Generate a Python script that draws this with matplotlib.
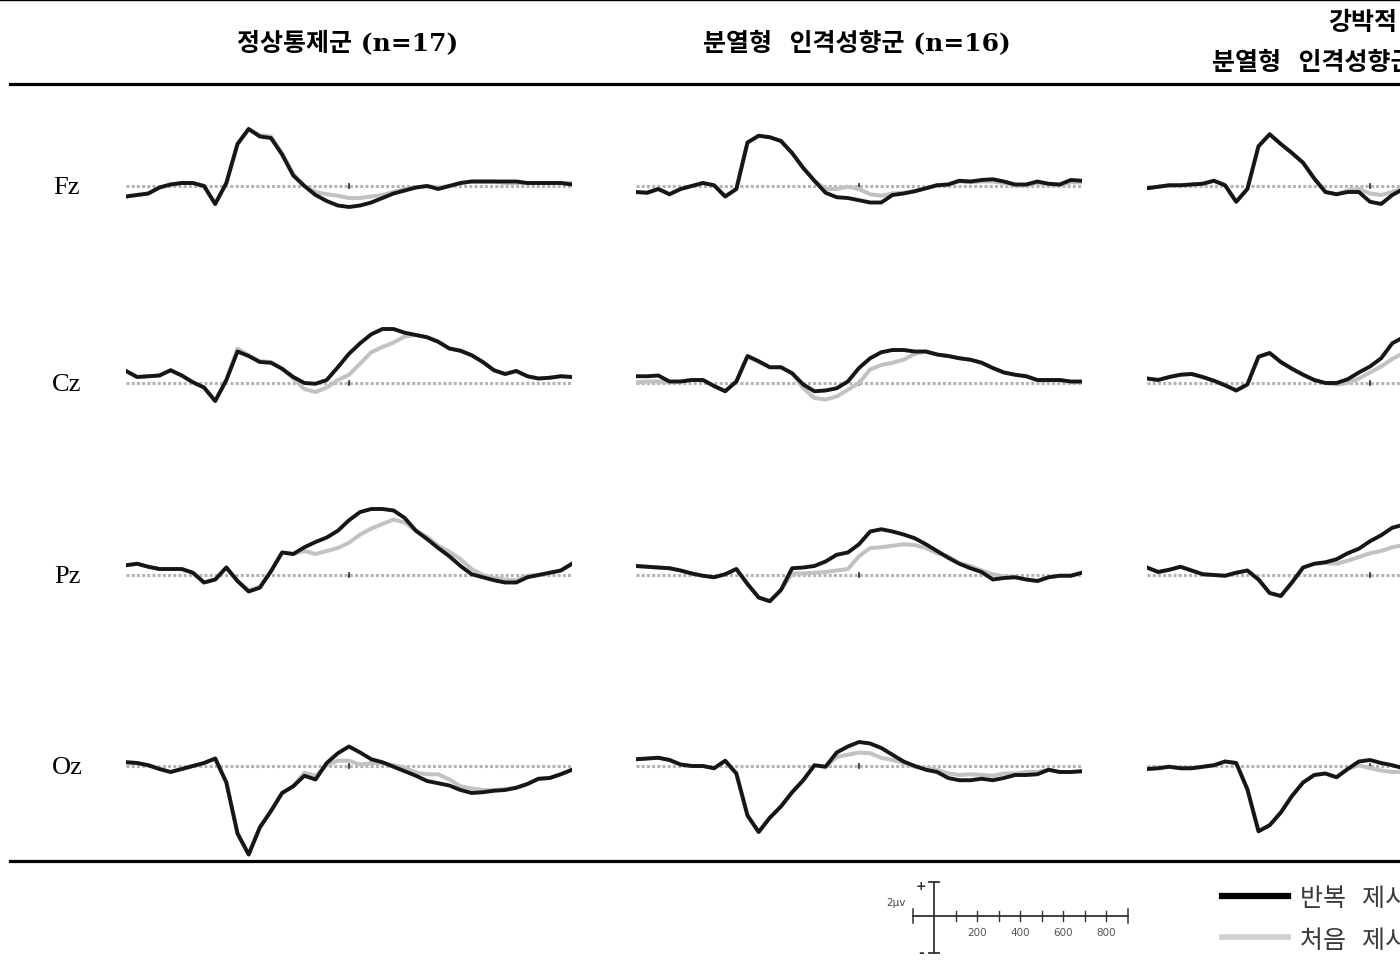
import numpy as np
import matplotlib.pyplot as plt
from matplotlib.lines import Line2D

plt.rcParams['font.family'] = ['Noto Sans CJK KR', 'DejaVu Sans']

# 시간축 (ms), 25ms 간격
times = np.arange(-100, 901, 25)
sites = ['Fz', 'Cz', 'Pz', 'Oz']
group_titles = ['정상통제군 (n=17)', '분열형  인격성향군 (n=16)']
third_title = ['강박적', '분열형  인격성향군']
legend_labels = ['반복  제시', '처음  제시']
scale_ticks = [200, 400, 600, 800]

# 정상통제군 (uV) - 반복 제시 / 처음 제시
normal_fz_rep = [-0.7, -0.6, -0.5, -0.1, 0.1, 0.2, 0.2, 0.0, -1.2, 0.2, 2.8, 3.8, 3.3, 3.2, 2.1, 0.7, 0.0, -0.6, -1.0, -1.3, -1.4, -1.3, -1.1, -0.8, -0.5, -0.3, -0.1, 0.0, -0.2, 0.0, 0.2, 0.3, 0.3, 0.3, 0.3, 0.3, 0.2, 0.2, 0.2, 0.2, 0.1]
normal_fz_first = [-0.7, -0.6, -0.5, -0.1, 0.1, 0.2, 0.2, 0.0, -1.2, 0.2, 2.8, 3.8, 3.4, 3.3, 2.2, 0.8, 0.0, -0.4, -0.55, -0.65, -0.8, -0.8, -0.7, -0.6, -0.4, -0.2, -0.1, 0.0, -0.1, 0.0, 0.2, 0.3, 0.3, 0.3, 0.2, 0.2, 0.2, 0.2, 0.2, 0.2, 0.2]
normal_cz_rep = [0.8, 0.4, 0.45, 0.5, 0.85, 0.5, 0.05, -0.3, -1.2, 0.2, 2.1, 1.8, 1.4, 1.35, 0.95, 0.4, 0.0, -0.05, 0.2, 1.05, 1.95, 2.65, 3.25, 3.6, 3.6, 3.35, 3.2, 3.05, 2.75, 2.3, 2.15, 1.85, 1.4, 0.85, 0.6, 0.8, 0.45, 0.3, 0.35, 0.45, 0.4]
normal_cz_first = [0.8, 0.4, 0.45, 0.5, 0.85, 0.5, 0.05, -0.3, -1.2, 0.2, 2.3, 1.85, 1.45, 1.4, 0.95, 0.3, -0.4, -0.6, -0.3, 0.2, 0.55, 1.3, 2.05, 2.4, 2.7, 3.1, 3.2, 3.05, 2.75, 2.3, 2.15, 1.85, 1.4, 0.85, 0.6, 0.8, 0.45, 0.3, 0.35, 0.45, 0.4]
normal_pz_rep = [0.65, 0.75, 0.55, 0.4, 0.4, 0.4, 0.15, -0.5, -0.3, 0.5, -0.4, -1.1, -0.85, 0.25, 1.5, 1.4, 1.85, 2.2, 2.5, 2.95, 3.65, 4.2, 4.4, 4.4, 4.3, 3.8, 2.95, 2.4, 1.8, 1.25, 0.6, 0.05, -0.15, -0.35, -0.5, -0.5, -0.15, 0.0, 0.15, 0.3, 0.75]
normal_pz_first = [0.65, 0.75, 0.55, 0.4, 0.4, 0.4, 0.15, -0.5, -0.3, 0.5, -0.4, -1.0, -0.8, 0.25, 1.5, 1.4, 1.6, 1.4, 1.6, 1.8, 2.15, 2.7, 3.1, 3.4, 3.7, 3.5, 2.95, 2.55, 1.95, 1.55, 1.05, 0.4, 0.0, -0.2, -0.3, -0.35, -0.05, 0.0, 0.15, 0.3, 0.75]
normal_oz_rep = [0.25, 0.2, 0.05, -0.2, -0.4, -0.2, 0.0, 0.2, 0.5, -1.1, -4.5, -5.9, -4.1, -3.0, -1.8, -1.35, -0.65, -0.9, 0.2, 0.85, 1.3, 0.9, 0.45, 0.25, -0.05, -0.35, -0.65, -1.0, -1.15, -1.3, -1.6, -1.8, -1.75, -1.65, -1.6, -1.45, -1.2, -0.85, -0.8, -0.55, -0.25]
normal_oz_first = [0.25, 0.2, 0.05, -0.2, -0.4, -0.2, 0.0, 0.2, 0.5, -1.1, -4.5, -5.9, -4.1, -3.0, -1.8, -1.35, -0.45, -0.65, 0.05, 0.35, 0.35, 0.1, 0.2, 0.2, 0.05, -0.1, -0.45, -0.55, -0.55, -0.9, -1.35, -1.5, -1.6, -1.6, -1.55, -1.45, -1.2, -0.85, -0.8, -0.55, -0.25]

# 분열형 인격성향군
schizo_fz_rep = [-0.4, -0.45, -0.2, -0.55, -0.2, 0.0, 0.2, 0.05, -0.7, -0.2, 2.9, 3.35, 3.25, 3.0, 2.2, 1.2, 0.35, -0.45, -0.75, -0.8, -0.95, -1.1, -1.1, -0.6, -0.5, -0.35, -0.15, 0.05, 0.1, 0.35, 0.3, 0.4, 0.45, 0.3, 0.1, 0.1, 0.3, 0.15, 0.1, 0.4, 0.35]
schizo_fz_first = [-0.4, -0.45, -0.2, -0.55, -0.2, 0.0, 0.2, 0.05, -0.7, -0.2, 2.9, 3.35, 3.25, 3.0, 2.2, 1.2, 0.35, -0.2, -0.2, -0.05, -0.2, -0.55, -0.65, -0.5, -0.45, -0.35, -0.15, 0.05, 0.1, 0.3, 0.25, 0.3, 0.3, 0.2, 0.05, 0.05, 0.2, 0.1, 0.05, 0.25, 0.25]
schizo_cz_rep = [0.45, 0.45, 0.5, 0.1, 0.1, 0.2, 0.2, -0.2, -0.55, 0.1, 1.8, 1.45, 1.05, 1.05, 0.65, -0.1, -0.55, -0.5, -0.35, 0.1, 1.0, 1.65, 2.05, 2.2, 2.2, 2.1, 2.1, 1.9, 1.8, 1.65, 1.55, 1.35, 1.0, 0.7, 0.55, 0.45, 0.2, 0.2, 0.2, 0.1, 0.1]
schizo_cz_first = [0.05, 0.1, 0.1, 0.05, 0.1, 0.2, 0.2, -0.2, -0.55, 0.1, 1.75, 1.4, 1.05, 1.05, 0.65, -0.35, -1.0, -1.1, -0.9, -0.45, 0.0, 0.9, 1.2, 1.35, 1.55, 1.95, 2.1, 1.9, 1.8, 1.65, 1.55, 1.35, 1.0, 0.7, 0.55, 0.45, 0.15, 0.15, 0.2, 0.05, 0.05]
schizo_pz_rep = [0.6, 0.55, 0.5, 0.45, 0.3, 0.1, -0.05, -0.15, 0.05, 0.4, -0.6, -1.5, -1.75, -1.0, 0.45, 0.5, 0.6, 0.9, 1.35, 1.5, 2.05, 2.9, 3.05, 2.9, 2.7, 2.45, 2.05, 1.6, 1.15, 0.75, 0.45, 0.2, -0.3, -0.2, -0.15, -0.3, -0.4, -0.15, -0.05, -0.05, 0.15]
schizo_pz_first = [0.6, 0.55, 0.5, 0.45, 0.3, 0.1, -0.05, -0.15, 0.05, 0.4, -0.6, -1.5, -1.75, -1.0, 0.1, 0.1, 0.15, 0.2, 0.3, 0.4, 1.25, 1.8, 1.85, 1.95, 2.05, 2.0, 1.8, 1.45, 1.25, 0.8, 0.6, 0.3, 0.05, -0.1, -0.15, -0.3, -0.4, -0.15, -0.05, -0.05, 0.15]
schizo_oz_rep = [0.45, 0.5, 0.55, 0.4, 0.1, 0.0, 0.0, -0.15, 0.35, -0.5, -3.3, -4.4, -3.45, -2.7, -1.75, -0.95, 0.05, -0.05, 0.9, 1.3, 1.6, 1.5, 1.2, 0.75, 0.3, 0.0, -0.25, -0.4, -0.8, -0.95, -0.95, -0.85, -0.95, -0.8, -0.6, -0.6, -0.55, -0.25, -0.4, -0.4, -0.35]
schizo_oz_first = [0.45, 0.5, 0.55, 0.4, 0.1, 0.0, 0.0, -0.15, 0.35, -0.5, -3.3, -4.4, -3.45, -2.7, -1.75, -0.95, 0.05, -0.05, 0.6, 0.75, 0.9, 0.85, 0.55, 0.4, 0.2, -0.05, -0.15, -0.25, -0.5, -0.6, -0.55, -0.6, -0.65, -0.5, -0.5, -0.4, -0.4, -0.25, -0.4, -0.4, -0.35]

# 강박적 + 분열형 (그림 오른쪽이 잘려 있어 보이는 구간만)
ocd_fz_rep = [-0.15, -0.05, 0.05, 0.05, 0.1, 0.15, 0.35, 0.05, -1.05, -0.2, 2.65, 3.45, 2.8, 2.2, 1.55, 0.5, -0.4, -0.55, -0.4, -0.4, -1.05, -1.2, -0.6, -0.2]
ocd_fz_first = [-0.15, -0.05, 0.05, 0.05, 0.1, 0.15, 0.35, 0.05, -1.05, -0.2, 2.65, 3.45, 2.8, 2.2, 1.55, 0.5, -0.4, -0.55, -0.3, -0.2, -0.5, -0.6, -0.4, -0.15]
ocd_cz_rep = [0.3, 0.2, 0.4, 0.55, 0.6, 0.4, 0.15, -0.15, -0.5, -0.1, 1.75, 2.0, 1.4, 0.95, 0.55, 0.2, 0.0, 0.0, 0.25, 0.7, 1.1, 1.65, 2.65, 3.05]
ocd_cz_first = [0.3, 0.2, 0.4, 0.55, 0.6, 0.4, 0.15, -0.15, -0.5, -0.1, 1.75, 2.0, 1.4, 0.95, 0.55, 0.2, 0.0, -0.1, 0.0, 0.3, 0.7, 1.1, 1.6, 2.0]
ocd_pz_rep = [0.5, 0.2, 0.35, 0.55, 0.3, 0.05, 0.0, -0.05, 0.15, 0.3, -0.3, -1.2, -1.4, -0.5, 0.5, 0.75, 0.85, 1.05, 1.45, 1.75, 2.25, 2.65, 3.15, 3.35]
ocd_pz_first = [0.5, 0.2, 0.35, 0.55, 0.3, 0.05, 0.0, -0.05, 0.15, 0.3, -0.3, -1.2, -1.4, -0.5, 0.5, 0.75, 0.8, 0.75, 0.95, 1.2, 1.45, 1.6, 1.85, 2.0]
ocd_oz_rep = [-0.2, -0.15, -0.05, -0.15, -0.15, -0.05, 0.05, 0.3, 0.2, -1.55, -4.35, -3.95, -3.1, -2.0, -1.1, -0.6, -0.5, -0.75, -0.2, 0.3, 0.4, 0.2, 0.05, -0.15]
ocd_oz_first = [-0.2, -0.15, -0.05, -0.15, -0.15, -0.05, 0.05, 0.3, 0.2, -1.55, -4.35, -3.95, -3.1, -2.0, -1.1, -0.6, -0.5, -0.75, -0.2, 0.05, -0.15, -0.3, -0.4, -0.4]

columns = [
    [(normal_fz_rep, normal_fz_first), (normal_cz_rep, normal_cz_first),
     (normal_pz_rep, normal_pz_first), (normal_oz_rep, normal_oz_first)],
    [(schizo_fz_rep, schizo_fz_first), (schizo_cz_rep, schizo_cz_first),
     (schizo_pz_rep, schizo_pz_first), (schizo_oz_rep, schizo_oz_first)],
    [(ocd_fz_rep, ocd_fz_first), (ocd_cz_rep, ocd_cz_first),
     (ocd_pz_rep, ocd_pz_first), (ocd_oz_rep, ocd_oz_first)],
]

W, H = 1400, 962
fig = plt.figure(figsize=(W / 100, H / 100), dpi=100)

# 라틴 문자는 세리프, 한글은 Noto CJK 로 넘어감
serif_kr = ['DejaVu Serif', 'Noto Sans CJK KR']


def axes_px(x0, y_top, w, h):
    return fig.add_axes([x0 / W, 1 - (y_top + h) / H, w / W, h / H])


def hline_px(x0, x1, y, lw, color='black'):
    fig.add_artist(Line2D([x0 / W, x1 / W], [1 - y / H, 1 - y / H], lw=lw, color=color))


PX_PER_UV = 15.0
col_x = [126, 636, 1147]
row_base = [187, 384, 576, 767]
half = 100

for c, col in enumerate(columns):
    for r, (rep, first) in enumerate(col):
        ax = axes_px(col_x[c], row_base[r] - half, 446, 2 * half)
        ax.set_xlim(-100, 900)
        ax.set_ylim(-half / PX_PER_UV, half / PX_PER_UV)
        ax.axis('off')
        ax.patch.set_alpha(0)
        ax.axhline(0, color='#b4b4b4', lw=2.2, ls=(0, (1, 0.7)), zorder=1)
        ax.plot([400, 400], [-0.15, 0.15], color='#222222', lw=1.2, zorder=1)
        t = times[:len(rep)]
        ax.plot(t, first, color='#c2c2c2', lw=2.9, zorder=2)
        ax.plot(t, rep, color='#161616', lw=2.8, zorder=3)

# 전극 이름
for r, s in enumerate(sites):
    fig.text(67 / W, 1 - (row_base[r] + 1) / H, s, family='Liberation Serif',
             fontsize=19, ha='center', va='center')

# 제목
hline_px(0, W, 0.5, 1.0)
fig.text(348 / W, 1 - 43 / H, group_titles[0], ha='center', va='center',
         fontsize=18, weight='bold', family=serif_kr)
fig.text(857 / W, 1 - 43 / H, group_titles[1], ha='center', va='center',
         fontsize=18, weight='bold', family=serif_kr)
fig.text(1328 / W, 1 - 23 / H, third_title[0], ha='left', va='center',
         fontsize=18, weight='bold', family=serif_kr)
fig.text(1212 / W, 1 - 63 / H, third_title[1], ha='left', va='center',
         fontsize=18, weight='bold', family=serif_kr)
hline_px(10, W, 84.5, 2.3)
hline_px(10, W, 861.5, 2.3)

# 스케일 바
sx0, sy_top, sw, sh = 880, 872, 260, 92
zero_x, zero_y = 934, 917
ms_px = 0.215
sax = axes_px(sx0, sy_top, sw, sh)
sax.set_xlim((sx0 - zero_x) / ms_px, (sx0 + sw - zero_x) / ms_px)
sax.set_ylim(-(sy_top + sh - zero_y) / 18.5, (zero_y - sy_top) / 18.5)
sax.axis('off')
sax.patch.set_alpha(0)
sax.plot([-100, 900], [0, 0], color='#333333', lw=1.3)
sax.plot([0, 0], [-2, 1.85], color='#333333', lw=1.3)
for yy in (-2, 1.85):
    sax.plot([-22, 22], [yy, yy], color='#333333', lw=1.3)
for xx in (-100, 900):
    sax.plot([xx, xx], [-0.38, 0.38], color='#333333', lw=1.1)
for xx in range(100, 900, 100):
    sax.plot([xx, xx], [-0.25, 0.25], color='#333333', lw=1.0)
for v in scale_ticks:
    sax.text(v, -0.85, str(v), ha='center', va='center', fontsize=7.5,
             color='#555555', family='DejaVu Sans')
sax.text(-60, 1.65, '+', ha='center', va='center', fontsize=9, weight='bold',
         color='#333333', family='DejaVu Sans')
sax.text(-60, -1.95, '-', ha='center', va='center', fontsize=10, weight='bold',
         color='#333333', family='DejaVu Sans')
sax.text(-175, 0.75, '2µv', ha='center', va='center', fontsize=7.5,
         color='#444444', family='DejaVu Sans')

# 범례
hline_px(1222, 1288, 897, 4.5, '#000000')
hline_px(1222, 1288, 938, 4.0, '#cfcfcf')
fig.text(1300 / W, 1 - 900 / H, legend_labels[0], ha='left', va='center',
         fontsize=18, color='#3a3a3a', family=serif_kr)
fig.text(1300 / W, 1 - 942 / H, legend_labels[1], ha='left', va='center',
         fontsize=18, color='#3a3a3a', family=serif_kr)

plt.savefig('out.png', dpi=100)
